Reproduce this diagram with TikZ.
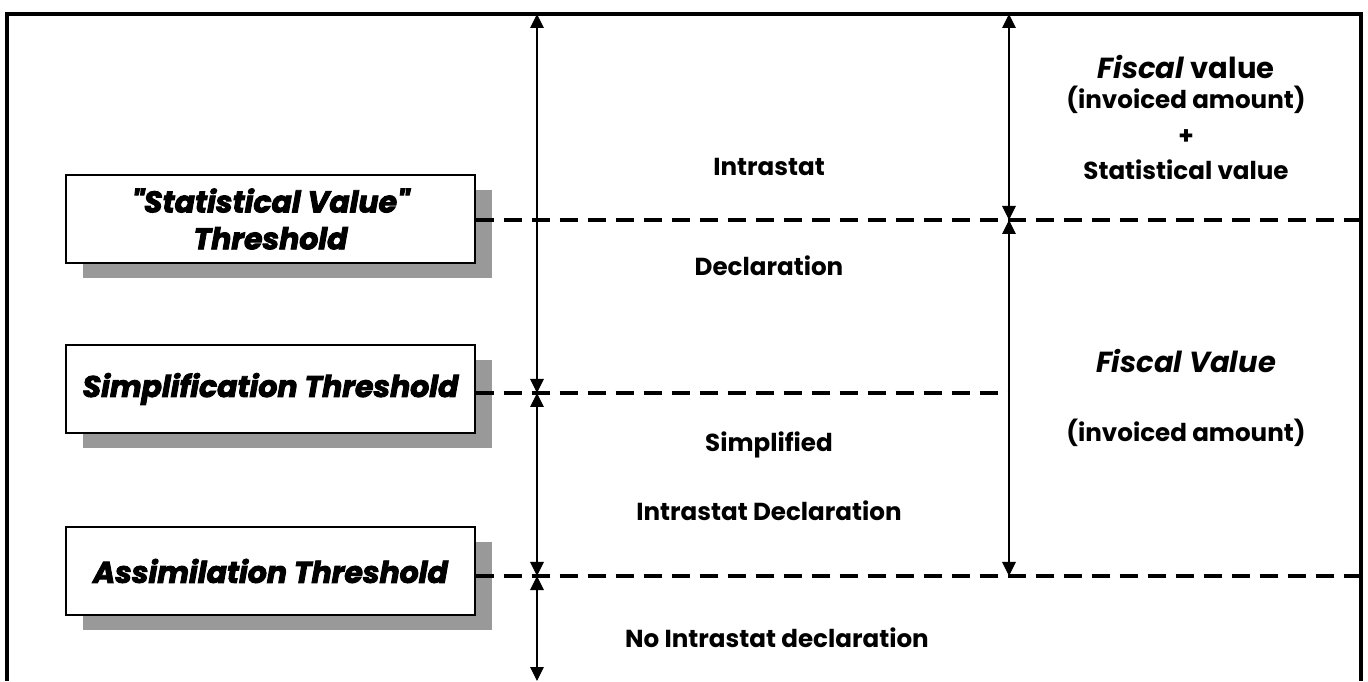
\documentclass[tikz,border=0pt]{standalone}
\usepackage{fontspec}
\setmainfont{Poppins}
\newfontfamily\heavyfont{Poppins}[BoldItalicFeatures={FakeBold=3}]
\usetikzlibrary{arrows.meta,shadows}

\tikzset{
    thresh/.style={draw,thick,fill=white,minimum width=8.18cm,minimum height=1.76cm,
        font=\heavyfont\fontsize{17}{21}\selectfont\bfseries\itshape,align=center,
        general shadow={fill=black!40,shadow xshift=0.34cm,shadow yshift=-0.3cm}},
    lvl/.style={line width=1.8pt,dash pattern=on 0.36cm off 0.2cm},
    span/.style={{Triangle[length=0.28cm,width=0.27cm]}-{Triangle[length=0.28cm,width=0.27cm]},line width=0.6pt},
    lbl/.style={font=\fontsize{14}{17}\selectfont\bfseries,align=center},
    big/.style={font=\fontsize{16.5}{20}\selectfont\bfseries,align=center}
}

\begin{document}
\begin{tikzpicture}
    \useasboundingbox (0,0) rectangle (27.36,13.62);
    % frame, open at the bottom
    \draw[line width=2.2pt] (0.14,0) |- (27.22,13.34) -- (27.22,0);

    % levels
    \coordinate (topA) at (10.74,13.34);
    \coordinate (topB) at (20.18,13.34);
    \coordinate (svA) at (10.74,9.22);
    \coordinate (svB) at (20.18,9.22);
    \coordinate (siA) at (10.74,5.76);
    \coordinate (siB) at (20.18,5.76);
    \coordinate (asA) at (10.74,2.10);
    \coordinate (asB) at (20.18,2.10);
    \coordinate (botA) at (10.74,0);
    \coordinate (rsv) at (27.22,9.22);
    \coordinate (ras) at (27.22,2.10);

    % threshold boxes
    \node[thresh] (sv) at (5.41,9.24) {"Statistical Value"\\Threshold};
    \node[thresh] (si) at (5.41,5.84) {Simplification Threshold};
    \node[thresh] (as) at (5.41,2.20) {Assimilation Threshold};

    \draw[lvl] (sv.east |- svA) -- (rsv);
    \draw[lvl] (si.east |- siA) -- (siB);
    \draw[lvl] (as.east |- asA) -- (ras);

    % ranges
    \draw[span] (topA) -- (siA);
    \draw[span] (siA) -- (asA);
    \draw[span] (asA) -- (botA);
    \draw[span] (topB) -- (svB);
    \draw[span] (svB) -- (asB);

    % declarations
    \node[lbl] (intra) at (15.38,10.28) {Intrastat};
    \node[lbl] (decl) at (15.38,8.30) {Declaration};
    \node[lbl] (simp) at (15.38,4.72) {Simplified};
    \node[lbl] (sdecl) at (15.38,3.40) {Intrastat Declaration};
    \node[lbl] (none) at (15.54,0.86) {No Intrastat declaration};

    % values
    \node[big] (fv1) at (23.72,12.28) {\textit{Fiscal} value};
    \node[lbl] (inv1) at (23.72,11.62) {(invoiced amount)};
    \node[lbl] (plus) at (23.72,10.88) {+};
    \node[lbl] (stat) at (23.72,10.22) {Statistical value};
    \node[big] (fv2) at (23.72,6.40) {\textit{Fiscal Value}};
    \node[lbl] (inv2) at (23.72,4.96) {(invoiced amount)};
\end{tikzpicture}
\end{document}
